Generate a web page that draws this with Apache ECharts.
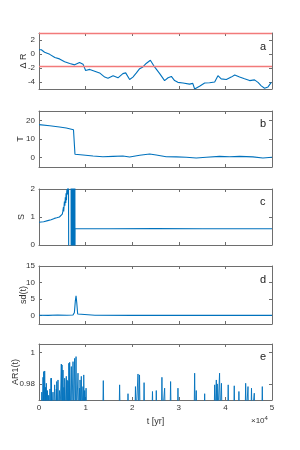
<!DOCTYPE html>
<html><head><meta charset="utf-8">
<script src="https://cdn.jsdelivr.net/npm/echarts@6/dist/echarts.min.js"></script>
<style>html,body{margin:0;padding:0;background:#fff}#c{width:300px;height:450px}</style>
</head><body><div id="c"></div>
<script>
// ---- data (t in years) ----
var dRT = [0,500,1200,2300,3400,4400,5500,6600,7650,8700,9100,9450,10000,10900,11950,13000,14100,14800,15900,16950,18000,18600,19450,20150,20900,21600,22300,23000,23900,24800,25900,26950,27700,28400,29100,29800,30900,32300,33000,33400,34450,35550,36600,37700,38400,39100,40200,41250,42000,43050,44100,45200,46250,47000,47700,48400,49150,49850];
var dRV = [0.6,0.6,0.25,-0.05,-0.5,-0.7,-1.1,-1.35,-1.55,-1.2,-1.0,-1.45,-2.35,-2.2,-2.45,-2.7,-3.3,-3.45,-3.1,-3.4,-2.8,-2.7,-3.65,-3.3,-2.7,-2.1,-1.85,-1.35,-0.9,-1.85,-2.8,-3.8,-3.4,-3.2,-3.8,-4.05,-4.15,-4.3,-4.2,-5.0,-4.6,-4.15,-4.1,-4.0,-3.1,-3.55,-3.65,-3.3,-3.0,-3.3,-3.55,-3.8,-3.7,-4.05,-4.55,-4.9,-4.7,-4.05];
var dRThresholds = [2.9, -1.8];

var tempT = [0,2300,4400,5850,7400,7580,7720,8000,9450,11600,13700,15900,18000,19450,21600,23750,25150,27300,29450,31600,33750,35900,38750,40900,43050,45900,48050,50000];
var tempV = [17.7,17.1,16.4,15.9,15.0,14.4,1.8,2.0,1.4,0.9,0.5,0.7,0.9,0.4,1.3,2.0,1.4,0.5,0.4,0.2,-0.2,0.2,0.7,0.5,0.7,0.4,-0.2,0.2];

var sT = [0,1000,1870,2600,3300,3800,4380,4600,4730,5000,5100,5250,5300,5450,5550,5650,5750,5800,5900,5950,6020,6100,6150,6250,6320,6370,6380,6390,
          6880,6900,6960,6980,7040,7060,7120,7140,7200,7220,7280,7300,7320,
          7460,7480,7540,7560,7620,7640,7700,7720,7740,15000,25000,35000,50000];
var sV = [0.81,0.83,0.87,0.9,0.95,0.97,1.0,0.98,1.03,1.1,1.19,1.35,1.2,1.55,1.4,1.7,1.5,1.85,1.6,1.9,2.0,1.8,2.3,2.1,3,3,-1,'-',
          3,-1,3,-1,3,-1,3,-1,3,-1,3,-1,'-',
          3,-1,3,-1,3,-1,3,-1,0.58,0.58,0.59,0.58,0.58];

var sdT = [0,2000,4000,6000,7300,7600,7800,7950,8100,8300,8500,12000,20000,30000,40000,50000];
var sdV = [0.15,0.1,0.2,0.15,0.2,1.0,4.5,6.0,4.0,0.5,0.1,0.15,0.1,0.15,0.1,0.1];

var arPeakT = [600,860,1000,1220,1400,1570,1800,2070,2350,2580,2650,3000,3360,3720,3800,4080,4400,4790,4940,5150,5350,5510,5860,6020,6220,6400,6580,6940,7300,7650,7950,8370,8720,8800,9080,9440,9600,9800,10100,13800,17300,19100,20700,21250,21570,22550,24350,25170,26380,26960,28240,29820,33400,33750,35550,37700,38050,38250,38750,39150,40600,41900,42900,44350,44850,45600,46200,47920];
var arPeakV = [0.975,0.9844,0.988,0.9884,0.978,0.9806,0.976,0.973,0.977,0.9838,0.9838,0.975,0.9796,0.977,0.9817,0.9827,0.976,0.9928,0.9922,0.989,0.978,0.9838,0.985,0.9827,0.982,0.9933,0.9939,0.9912,0.9943,0.9964,0.9975,0.987,0.9775,0.9827,0.985,0.9785,0.9859,0.976,0.9775,0.9823,0.9796,0.974,0.9785,0.9865,0.9859,0.981,0.9754,0.976,0.9844,0.9775,0.9817,0.9775,0.987,0.976,0.974,0.9796,0.9827,0.9802,0.987,0.9806,0.9796,0.979,0.9754,0.9806,0.9785,0.9775,0.9743,0.9785];
var arLow = 0.96;
var arHalfWidth = 120;

var xTicks = [0,1,2,3,4,5];
</script>
<script>
var chart = echarts.init(document.getElementById('c'), null, {renderer:'canvas'});
var blue = '#0072BD';
var axisCol = '#6e6e6e';
var labCol = '#333';
var font = 'Liberation Sans, Arial, sans-serif';

var panels = [
  {top:33,  height:56, min:-5,  max:3,     ticks:[-4,-2,0,2],   name:'\u0394 R',  gap:11, letter:'a'},
  {top:111, height:56, min:-5,  max:25,    ticks:[0,10,20],     name:'T',      gap:14, letter:'b'},
  {top:189, height:56, min:0,   max:2,     ticks:[0,1,2],       name:'S',      gap:13, letter:'c'},
  {top:266, height:58, min:-2.5,max:15,    ticks:[0,5,10,15],   name:'sd(t)',  gap:11, letter:'d'},
  {top:344, height:56, min:0.97,max:1.0055,ticks:[0.98,1],      name:'AR1(t)', gap:19, letter:'e'}
];

function zip(a,b){ var r=[]; for(var i=0;i<a.length;i++) r.push([a[i],b[i]]); return r; }

var grids=[], xAxes=[], yAxes=[], series=[], graphics=[];
panels.forEach(function(p,i){
  grids.push({left:39, width:233, top:p.top, height:p.height, containLabel:false, outerBoundsMode:'none'});
  var lineStyle = {color:axisCol, width:1};
  var xt = xTicks.map(function(v){return v*10000;});
  xAxes.push({type:'value', gridIndex:i, position:'bottom', min:0, max:50000,
    axisLine:{show:true, onZero:false, lineStyle:lineStyle},
    axisTick:{show:true, inside:true, length:3, customValues:xt, lineStyle:lineStyle},
    axisLabel:{show:i===4, customValues:xt, margin:4, color:labCol, fontSize:8, fontFamily:font,
      formatter:function(v){return String(Math.round(v/10000));}},
    splitLine:{show:false},
    name: i===4 ? 't [yr]' : '', nameLocation:'middle', nameGap:17, nameMoveOverlap:false,
    nameTextStyle:{color:labCol, fontSize:9, fontFamily:font}
  });
  xAxes.push({type:'value', gridIndex:i, position:'top', min:0, max:50000,
    axisLine:{show:true, onZero:false, lineStyle:lineStyle},
    axisTick:{show:true, inside:true, length:3, customValues:xt, lineStyle:lineStyle},
    axisLabel:{show:false}, splitLine:{show:false}});
  yAxes.push({type:'value', gridIndex:i, position:'left', min:p.min, max:p.max,
    axisLine:{show:true, onZero:false, lineStyle:lineStyle},
    axisTick:{show:true, inside:true, length:3, customValues:p.ticks, lineStyle:lineStyle},
    axisLabel:{show:true, customValues:p.ticks, margin:4, color:labCol, fontSize:8, fontFamily:font},
    splitLine:{show:false},
    name:p.name, nameLocation:'middle', nameGap:p.gap, nameRotate:90, nameMoveOverlap:false,
    nameTextStyle:{color:labCol, fontSize:9, fontFamily:font}
  });
  yAxes.push({type:'value', gridIndex:i, position:'right', min:p.min, max:p.max,
    axisLine:{show:true, onZero:false, lineStyle:lineStyle},
    axisTick:{show:true, inside:true, length:3, customValues:p.ticks, lineStyle:lineStyle},
    axisLabel:{show:false}, splitLine:{show:false}});
  graphics.push({type:'text', left:260, top:p.top+ (i===0?8:(i===1?7:(i===2?7:(i===3?8:7)))),
    style:{text:p.letter, fill:'#222', font:'11px '+font}, z:10});
});

function lineSeries(i, data, extra){
  var s = {type:'line', xAxisIndex:2*i, yAxisIndex:2*i, data:data, showSymbol:false, symbol:'none',
    connectNulls:false, clip:true, animation:false,
    lineStyle:{color:blue, width:1.1}};
  if(extra) for(var k in extra) s[k]=extra[k];
  return s;
}

series.push(lineSeries(0, zip(dRT,dRV), {
  markLine:{symbol:'none', silent:true, animation:false, label:{show:false},
    lineStyle:{color:'#f27a7a', width:1.3, type:'solid'},
    data: dRThresholds.map(function(v){return {yAxis:v};})}
}));
series.push(lineSeries(1, zip(tempT,tempV)));
series.push(lineSeries(2, zip(sT,sV)));
series.push(lineSeries(3, zip(sdT,sdV)));
var arData=[];
arPeakT.forEach(function(t,k){
  arData.push([t-arHalfWidth, arLow]);
  arData.push([t, arPeakV[k]]);
  arData.push([t+arHalfWidth, arLow]);
});
series.push(lineSeries(4, arData, {lineStyle:{color:blue, width:0.9}}));

graphics.push({type:'text', left:251, top:415,
  style:{text:'\u00d710{s|4}', fill:labCol, font:'8px '+font,
    rich:{s:{fontSize:6, fontFamily:font, verticalAlign:'top', padding:[0,0,6,0]}}}});

chart.setOption({
  animation:false,
  backgroundColor:'#fff',
  grid:grids, xAxis:xAxes, yAxis:yAxes, series:series, graphic:graphics
});
</script>
</body></html>
